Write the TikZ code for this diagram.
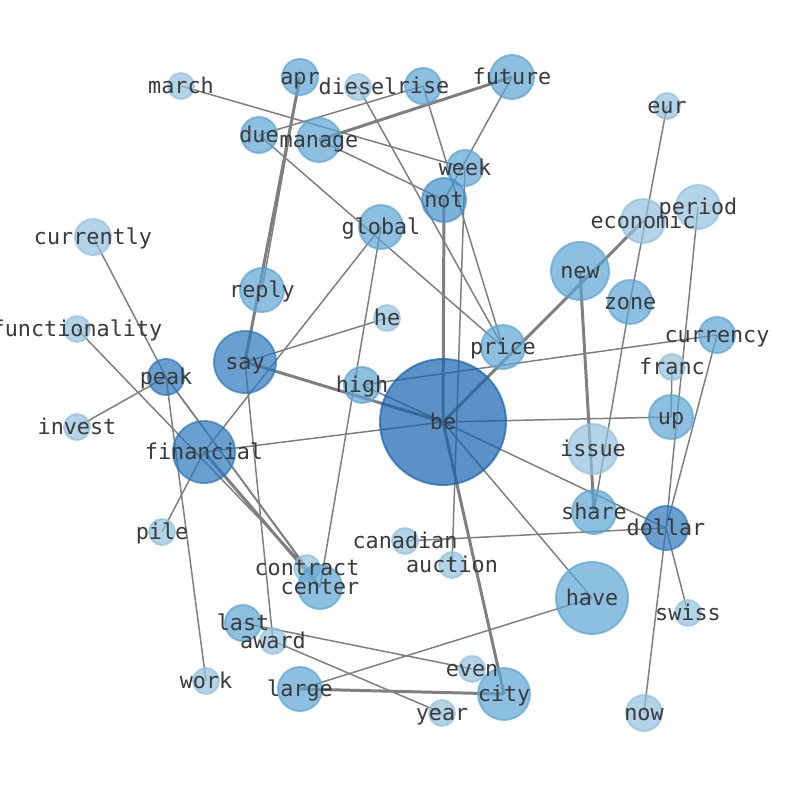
\documentclass[tikz,border=0pt]{standalone}
\usepackage{fontspec}
\setmonofont{DejaVu Sans Mono}
\definecolor{ltblue}{HTML}{92C0DE}
\definecolor{mdblue}{HTML}{5CA5D3}
\definecolor{ntblue}{HTML}{4191CA}
\definecolor{dkblue}{HTML}{2A78BC}
\definecolor{beblue}{HTML}{1563AE}
\definecolor{edgegray}{HTML}{7F7F7F}
\definecolor{txtgray}{HTML}{3A3A3A}
\pgfdeclarelayer{background}
\pgfsetlayers{background,main}
\tikzset{
	word/.style={circle, inner sep=0pt, line width=1.1pt, opacity=0.7},
	lt/.style={word, fill=ltblue, draw=ltblue},
	md/.style={word, fill=mdblue, draw=mdblue},
	nt/.style={word, fill=ntblue, draw=ntblue},
	dk/.style={word, fill=dkblue, draw=dkblue},
	bk/.style={word, fill=beblue, draw=beblue},
	r13/.style={minimum size=0.52cm},
	r18/.style={minimum size=0.72cm},
	r22/.style={minimum size=0.88cm},
	r25/.style={minimum size=1.0cm},
	r26/.style={minimum size=1.04cm},
	r29/.style={minimum size=1.16cm},
	r31/.style={minimum size=1.24cm},
	r36/.style={minimum size=1.44cm},
	r63/.style={minimum size=2.52cm},
	link/.style={draw=edgegray, line width=0.85pt},
	heavy/.style={link, line width=1.7pt},
	lbl/.style={inner sep=0pt, text=txtgray, text height=0.75em, text depth=0.22em,
		yshift=-0.05cm, font=\ttfamily\fontsize{12.4}{14}\selectfont}
}
\begin{document}
\begin{tikzpicture}[x=0.02cm, y=-0.02cm]
	\useasboundingbox (0,0) rectangle (794,790);
	\node[lt, r13]	(march)	at (181, 86)	{};
	\node[md, r18]	(apr)	at (300, 77)	{};
	\node[lt, r13]	(diesel)	at (358, 87)	{};
	\node[md, r18]	(rise)	at (423, 86)	{};
	\node[md, r22]	(future)	at (512, 77)	{};
	\node[lt, r13]	(eur)	at (667, 106)	{};
	\node[md, r18]	(due)	at (259, 135)	{};
	\node[md, r22]	(manage)	at (319, 140)	{};
	\node[md, r18]	(week)	at (465, 168)	{};
	\node[nt, r22]	(not)	at (444, 200)	{};
	\node[lt, r22]	(period)	at (698, 207)	{};
	\node[lt, r22]	(economic)	at (643, 221)	{};
	\node[lt, r18]	(currently)	at (93, 237)	{};
	\node[md, r22]	(global)	at (381, 227)	{};
	\node[md, r29]	(new)	at (580, 271)	{};
	\node[md, r22]	(reply)	at (262, 290)	{};
	\node[md, r22]	(zone)	at (630, 302)	{};
	\node[lt, r13]	(he)	at (387, 318)	{};
	\node[lt, r13]	(functionality)	at (77, 329)	{};
	\node[md, r18]	(currency)	at (717, 335)	{};
	\node[md, r22]	(price)	at (503, 347)	{};
	\node[dk, r31]	(say)	at (245, 362)	{};
	\node[dk, r18]	(peak)	at (166, 377)	{};
	\node[md, r18]	(high)	at (362, 385)	{};
	\node[lt, r13]	(franc)	at (672, 367)	{};
	\node[bk, r63]	(be)	at (443, 422)	{};
	\node[md, r22]	(up)	at (671, 417)	{};
	\node[lt, r13]	(invest)	at (77, 427)	{};
	\node[dk, r31]	(financial)	at (204, 452)	{};
	\node[lt, r25]	(issue)	at (593, 449)	{};
	\node[md, r22]	(share)	at (594, 512)	{};
	\node[dk, r22]	(dollar)	at (666, 528)	{};
	\node[lt, r13]	(pile)	at (162, 532)	{};
	\node[lt, r13]	(canadian)	at (405, 541)	{};
	\node[lt, r13]	(auction)	at (452, 565)	{};
	\node[lt, r13]	(contract)	at (307, 568)	{};
	\node[md, r22]	(center)	at (320, 587)	{};
	\node[md, r36]	(have)	at (592, 598)	{};
	\node[lt, r13]	(swiss)	at (688, 613)	{};
	\node[md, r18]	(last)	at (243, 623)	{};
	\node[lt, r13]	(award)	at (273, 641)	{};
	\node[lt, r13]	(even)	at (472, 669)	{};
	\node[lt, r13]	(work)	at (206, 681)	{};
	\node[md, r22]	(large)	at (300, 689)	{};
	\node[md, r26]	(city)	at (504, 694)	{};
	\node[lt, r13]	(year)	at (442, 713)	{};
	\node[lt, r18]	(now)	at (644, 713)	{};
	\begin{pgfonlayer}{background} %edges go under the circles
	\draw[link] (march.center) -- (week.center);
	\draw[link] (due.center) -- (rise.center);
	\draw[link] (due.center) -- (price.center);
	\draw[heavy] (manage.center) -- (future.center);
	\draw[link] (manage.center) -- (not.center);
	\draw[link] (diesel.center) -- (price.center);
	\draw[link] (rise.center) -- (price.center);
	\draw[link] (future.center) -- (not.center);
	\draw[link] (week.center) -- (auction.center);
	\draw[heavy] (not.center) -- (be.center);
	\draw[heavy] (apr.center) -- (say.center);
	\draw[link] (apr.center) -- (reply.center);
	\draw[link] (say.center) -- (he.center);
	\draw[heavy] (say.center) -- (be.center);
	\draw[link] (high.center) -- (be.center);
	\draw[link] (say.center) -- (award.center);
	\draw[link] (global.center) -- (financial.center);
	\draw[link] (financial.center) -- (pile.center);
	\draw[link] (global.center) -- (center.center);
	\draw[link] (high.center) -- (currency.center);
	\draw[link] (be.center) -- (up.center);
	\draw[link] (be.center) -- (financial.center);
	\draw[heavy] (be.center) -- (economic.center);
	\draw[heavy] (new.center) -- (share.center);
	\draw[link] (eur.center) -- (zone.center);
	\draw[link] (zone.center) -- (share.center);
	\draw[link] (period.center) -- (dollar.center);
	\draw[link] (franc.center) -- (up.center);
	\draw[link] (currency.center) -- (dollar.center);
	\draw[link] (dollar.center) -- (now.center);
	\draw[link] (dollar.center) -- (swiss.center);
	\draw[link] (be.center) -- (dollar.center);
	\draw[link] (canadian.center) -- (dollar.center);
	\draw[link] (be.center) -- (have.center);
	\draw[heavy] (be.center) -- (city.center);
	\draw[link] (have.center) -- (large.center);
	\draw[heavy] (large.center) -- (city.center);
	\draw[link] (last.center) -- (even.center);
	\draw[link] (award.center) -- (year.center);
	\draw[link] (peak.center) -- (work.center);
	\draw[link] (peak.center) -- (invest.center);
	\draw[link] (currently.center) -- (peak.center);
	\draw[link] (functionality.center) -- (contract.center);
	\draw[link] (peak.center) -- (contract.center);
	\draw[link] (peak.center) -- (center.center);
	\draw[heavy] (financial.center) -- (center.center);
	\end{pgfonlayer}
	\foreach \w in {march, apr, diesel, rise, future, eur, due, manage, week, not,
		period, economic, currently, global, new, reply, zone, he, functionality,
		currency, price, say, peak, high, franc, be, up, invest, financial, issue,
		share, dollar, pile, canadian, auction, contract, center, have, swiss,
		last, award, even, work, large, city, year, now}
		\node[lbl] (\w-l) at (\w) {\w};
\end{tikzpicture}
\end{document}
